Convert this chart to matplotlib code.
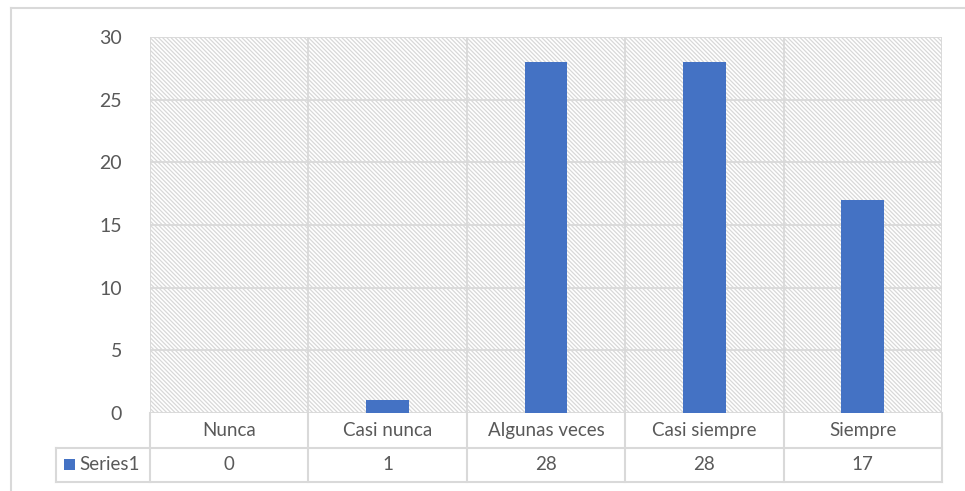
import matplotlib.pyplot as plt
import matplotlib.patches as mpatches
from matplotlib.lines import Line2D

plt.rcParams['font.family'] = ['Lato', 'DejaVu Sans']
plt.rcParams['hatch.linewidth'] = 0.9

# data
categories = ['Nunca', 'Casi nunca', 'Algunas veces', 'Casi siempre', 'Siempre']
values = [0, 1, 28, 28, 17]
series_name = 'Series1'
yticks = [0, 5, 10, 15, 20, 25, 30]

W, H = 965, 491
fig = plt.figure(figsize=(W / 100, H / 100), dpi=100)

# plot area in pixels: x 150..942, y 37..413
left, right, top, bottom = 150, 942, 37, 413
ax = fig.add_axes([left / W, 1 - bottom / H, (right - left) / W, (bottom - top) / H])

n = len(categories)
ax.set_xlim(-0.5, n - 0.5)
ax.set_ylim(0, 30)

# hatched background (light diagonal pattern)
ax.add_patch(mpatches.Rectangle((0, 0), 1, 1, transform=ax.transAxes,
                                facecolor='white', edgecolor='#d8d8d8', lw=0,
                                hatch='\\' * 8, zorder=0))

grid_c = '#d9d9d9'
for y in yticks:
    ax.axhline(y, color=grid_c, lw=1.3, zorder=1)
for i in range(n + 1):
    ax.axvline(i - 0.5, color=grid_c, lw=1.3, zorder=1)

ax.bar(range(n), values, width=0.27, color='#4472c4', zorder=2)

for s in ax.spines.values():
    s.set_visible(False)
ax.set_xticks([])
ax.set_yticks(yticks)
ax.tick_params(axis='y', length=0, pad=20, labelsize=14, labelcolor='#595959')

# data table below the axes (figure pixel coords)
def fx(px):
    return px / W

def fy(py):
    return 1 - py / H

row1_top, row1_bot, row2_bot = 413, 448, 482
legend_left = 56
col_w = (right - left) / n
tc = '#595959'
fs = 13.5

lines = []
lines.append(([legend_left, right], [row1_bot, row1_bot]))
lines.append(([legend_left, right], [row2_bot, row2_bot]))
lines.append(([legend_left, legend_left], [row1_bot, row2_bot]))
for i in range(n + 1):
    x = left + i * col_w
    lines.append(([x, x], [row1_top, row2_bot]))
for xs, ys in lines:
    fig.add_artist(Line2D([fx(v) for v in xs], [fy(v) for v in ys],
                          color=grid_c, lw=1.5))

for i, (cat, v) in enumerate(zip(categories, values)):
    cx = left + (i + 0.5) * col_w
    fig.text(fx(cx), fy((row1_top + row1_bot) / 2), cat, ha='center', va='center',
             fontsize=fs, color=tc)
    fig.text(fx(cx), fy((row1_bot + row2_bot) / 2), str(v), ha='center', va='center',
             fontsize=fs, color=tc)

# legend key in table
fig.add_artist(mpatches.Rectangle((fx(64), fy(470)), fx(11), 11 / H,
                                  facecolor='#4472c4', edgecolor='none'))
fig.text(fx(79), fy((row1_bot + row2_bot) / 2), series_name, ha='left', va='center',
         fontsize=fs, color=tc)

# outer chart border (top and left)
fig.add_artist(Line2D([fx(11), fx(965)], [fy(8), fy(8)], color='#d9d9d9', lw=1.5))
fig.add_artist(Line2D([fx(11), fx(11)], [fy(8), fy(491)], color='#d9d9d9', lw=1.5))

fig.savefig('out.png', dpi=100)
